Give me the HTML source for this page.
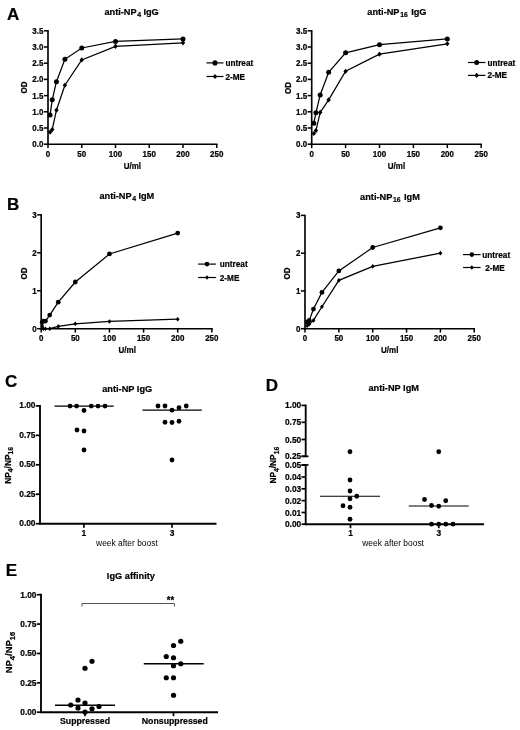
<!DOCTYPE html>
<html><head><meta charset="utf-8"><title>Figure</title>
<style>
html,body{margin:0;padding:0;background:#fff;}
body{width:520px;height:730px;overflow:hidden;}
svg{display:block;font-family:"Liberation Sans",sans-serif;fill:#000;}
text[font-weight="bold"]{stroke:#000;stroke-width:0.22px;}
</style></head><body>
<svg width="520" height="730" viewBox="0 0 520 730">
<defs><filter id="bl" x="0" y="0" width="520" height="730" filterUnits="userSpaceOnUse"><feGaussianBlur stdDeviation="0.45"/></filter></defs>
<rect x="0" y="0" width="520" height="730" fill="#fff"/>
<g filter="url(#bl)">
<line x1="48" y1="30.05" x2="48" y2="145.0" stroke="#000" stroke-width="1.65"/>
<line x1="47.2" y1="144.2" x2="217.55" y2="144.2" stroke="#000" stroke-width="1.65"/>
<line x1="43.9" y1="144.2" x2="48" y2="144.2" stroke="#000" stroke-width="1.5"/>
<text transform="translate(43.4,147.1) scale(0.94,1)" font-size="8.5" text-anchor="end" font-weight="bold" >0.0</text>
<line x1="43.9" y1="128.0" x2="48" y2="128.0" stroke="#000" stroke-width="1.5"/>
<text transform="translate(43.4,130.9) scale(0.94,1)" font-size="8.5" text-anchor="end" font-weight="bold" >0.5</text>
<line x1="43.9" y1="111.8" x2="48" y2="111.8" stroke="#000" stroke-width="1.5"/>
<text transform="translate(43.4,114.7) scale(0.94,1)" font-size="8.5" text-anchor="end" font-weight="bold" >1.0</text>
<line x1="43.9" y1="95.6" x2="48" y2="95.6" stroke="#000" stroke-width="1.5"/>
<text transform="translate(43.4,98.5) scale(0.94,1)" font-size="8.5" text-anchor="end" font-weight="bold" >1.5</text>
<line x1="43.9" y1="79.4" x2="48" y2="79.4" stroke="#000" stroke-width="1.5"/>
<text transform="translate(43.4,82.30000000000001) scale(0.94,1)" font-size="8.5" text-anchor="end" font-weight="bold" >2.0</text>
<line x1="43.9" y1="63.2" x2="48" y2="63.2" stroke="#000" stroke-width="1.5"/>
<text transform="translate(43.4,66.10000000000001) scale(0.94,1)" font-size="8.5" text-anchor="end" font-weight="bold" >2.5</text>
<line x1="43.9" y1="47.0" x2="48" y2="47.0" stroke="#000" stroke-width="1.5"/>
<text transform="translate(43.4,49.9) scale(0.94,1)" font-size="8.5" text-anchor="end" font-weight="bold" >3.0</text>
<line x1="43.9" y1="30.8" x2="48" y2="30.8" stroke="#000" stroke-width="1.5"/>
<text transform="translate(43.4,33.7) scale(0.94,1)" font-size="8.5" text-anchor="end" font-weight="bold" >3.5</text>
<line x1="48.0" y1="144.2" x2="48.0" y2="148.1" stroke="#000" stroke-width="1.5"/>
<text transform="translate(48.0,156.5) scale(0.94,1)" font-size="8.5" text-anchor="middle" font-weight="bold" >0</text>
<line x1="81.75" y1="144.2" x2="81.75" y2="148.1" stroke="#000" stroke-width="1.5"/>
<text transform="translate(81.75,156.5) scale(0.94,1)" font-size="8.5" text-anchor="middle" font-weight="bold" >50</text>
<line x1="115.5" y1="144.2" x2="115.5" y2="148.1" stroke="#000" stroke-width="1.5"/>
<text transform="translate(115.5,156.5) scale(0.94,1)" font-size="8.5" text-anchor="middle" font-weight="bold" >100</text>
<line x1="149.25" y1="144.2" x2="149.25" y2="148.1" stroke="#000" stroke-width="1.5"/>
<text transform="translate(149.25,156.5) scale(0.94,1)" font-size="8.5" text-anchor="middle" font-weight="bold" >150</text>
<line x1="183.0" y1="144.2" x2="183.0" y2="148.1" stroke="#000" stroke-width="1.5"/>
<text transform="translate(183.0,156.5) scale(0.94,1)" font-size="8.5" text-anchor="middle" font-weight="bold" >200</text>
<line x1="216.75" y1="144.2" x2="216.75" y2="148.1" stroke="#000" stroke-width="1.5"/>
<text transform="translate(216.75,156.5) scale(0.94,1)" font-size="8.5" text-anchor="middle" font-weight="bold" >250</text>
<path d="M50.11,115.04 L52.22,99.81 L56.44,81.67 L64.88,59.31 L81.75,47.97 L115.5,41.49 L183.0,38.9" fill="none" stroke="#000" stroke-width="1.25"/>
<circle cx="50.11" cy="115.04" r="2.5"/>
<circle cx="52.22" cy="99.81" r="2.5"/>
<circle cx="56.44" cy="81.67" r="2.5"/>
<circle cx="64.88" cy="59.31" r="2.5"/>
<circle cx="81.75" cy="47.97" r="2.5"/>
<circle cx="115.5" cy="41.49" r="2.5"/>
<circle cx="183.0" cy="38.9" r="2.5"/>
<path d="M50.11,132.21 L52.22,129.62 L56.44,110.18 L64.88,85.23 L81.75,59.96 L115.5,46.35 L183.0,42.79" fill="none" stroke="#000" stroke-width="1.25"/>
<path d="M47.9,132.21 L50.11,129.61 L52.32,132.21 L50.11,134.81Z"/>
<path d="M50.01,129.62 L52.22,127.02000000000001 L54.43,129.62 L52.22,132.22Z"/>
<path d="M54.23,110.18 L56.44,107.58000000000001 L58.65,110.18 L56.44,112.78Z"/>
<path d="M62.669999999999995,85.23 L64.88,82.63000000000001 L67.08999999999999,85.23 L64.88,87.83Z"/>
<path d="M79.54,59.96 L81.75,57.36 L83.96,59.96 L81.75,62.56Z"/>
<path d="M113.29,46.35 L115.5,43.75 L117.71,46.35 L115.5,48.95Z"/>
<path d="M180.79,42.79 L183.0,40.19 L185.21,42.79 L183.0,45.39Z"/>
<text transform="translate(104.4,15.1) scale(0.94,1)" font-size="9.8" text-anchor="start" font-weight="bold">anti-NP<tspan font-size="7.3" dy="2.2" dx="0.8">4</tspan><tspan dy="-2.2" dx="-0.3"> </tspan>IgG</text>
<line x1="206.5" y1="62.9" x2="223.5" y2="62.9" stroke="#000" stroke-width="1.2"/>
<circle cx="215.0" cy="62.9" r="2.55"/>
<text transform="translate(225.4,65.9) scale(0.94,1)" font-size="8.75" text-anchor="start" font-weight="bold" >untreat</text>
<line x1="206.5" y1="76.5" x2="223.5" y2="76.5" stroke="#000" stroke-width="1.2"/>
<path d="M212.79,76.5 L215.0,73.9 L217.21,76.5 L215.0,79.1Z"/>
<text transform="translate(225.4,79.5) scale(0.94,1)" font-size="8.75" text-anchor="start" font-weight="bold" >2-ME</text>
<text transform="translate(26.9,87.6) rotate(-90) scale(0.94,1)" font-size="8.5" text-anchor="middle" font-weight="bold">OD</text>
<text transform="translate(132.3,168.7) scale(0.94,1)" font-size="8.5" text-anchor="middle" font-weight="bold" >U/ml</text>
<text transform="translate(6.9,20.2) scale(1,1)" font-size="17" text-anchor="start" font-weight="bold" stroke="#000" stroke-width="0.35">A</text>
<line x1="311.7" y1="30.05" x2="311.7" y2="145.0" stroke="#000" stroke-width="1.65"/>
<line x1="310.9" y1="144.2" x2="481.95" y2="144.2" stroke="#000" stroke-width="1.65"/>
<line x1="307.59999999999997" y1="144.2" x2="311.7" y2="144.2" stroke="#000" stroke-width="1.5"/>
<text transform="translate(307.09999999999997,147.1) scale(0.94,1)" font-size="8.5" text-anchor="end" font-weight="bold" >0.0</text>
<line x1="307.59999999999997" y1="128.0" x2="311.7" y2="128.0" stroke="#000" stroke-width="1.5"/>
<text transform="translate(307.09999999999997,130.9) scale(0.94,1)" font-size="8.5" text-anchor="end" font-weight="bold" >0.5</text>
<line x1="307.59999999999997" y1="111.8" x2="311.7" y2="111.8" stroke="#000" stroke-width="1.5"/>
<text transform="translate(307.09999999999997,114.7) scale(0.94,1)" font-size="8.5" text-anchor="end" font-weight="bold" >1.0</text>
<line x1="307.59999999999997" y1="95.6" x2="311.7" y2="95.6" stroke="#000" stroke-width="1.5"/>
<text transform="translate(307.09999999999997,98.5) scale(0.94,1)" font-size="8.5" text-anchor="end" font-weight="bold" >1.5</text>
<line x1="307.59999999999997" y1="79.4" x2="311.7" y2="79.4" stroke="#000" stroke-width="1.5"/>
<text transform="translate(307.09999999999997,82.30000000000001) scale(0.94,1)" font-size="8.5" text-anchor="end" font-weight="bold" >2.0</text>
<line x1="307.59999999999997" y1="63.2" x2="311.7" y2="63.2" stroke="#000" stroke-width="1.5"/>
<text transform="translate(307.09999999999997,66.10000000000001) scale(0.94,1)" font-size="8.5" text-anchor="end" font-weight="bold" >2.5</text>
<line x1="307.59999999999997" y1="47.0" x2="311.7" y2="47.0" stroke="#000" stroke-width="1.5"/>
<text transform="translate(307.09999999999997,49.9) scale(0.94,1)" font-size="8.5" text-anchor="end" font-weight="bold" >3.0</text>
<line x1="307.59999999999997" y1="30.8" x2="311.7" y2="30.8" stroke="#000" stroke-width="1.5"/>
<text transform="translate(307.09999999999997,33.7) scale(0.94,1)" font-size="8.5" text-anchor="end" font-weight="bold" >3.5</text>
<line x1="311.7" y1="144.2" x2="311.7" y2="148.1" stroke="#000" stroke-width="1.5"/>
<text transform="translate(311.7,156.5) scale(0.94,1)" font-size="8.5" text-anchor="middle" font-weight="bold" >0</text>
<line x1="345.6" y1="144.2" x2="345.6" y2="148.1" stroke="#000" stroke-width="1.5"/>
<text transform="translate(345.6,156.5) scale(0.94,1)" font-size="8.5" text-anchor="middle" font-weight="bold" >50</text>
<line x1="379.5" y1="144.2" x2="379.5" y2="148.1" stroke="#000" stroke-width="1.5"/>
<text transform="translate(379.5,156.5) scale(0.94,1)" font-size="8.5" text-anchor="middle" font-weight="bold" >100</text>
<line x1="413.4" y1="144.2" x2="413.4" y2="148.1" stroke="#000" stroke-width="1.5"/>
<text transform="translate(413.4,156.5) scale(0.94,1)" font-size="8.5" text-anchor="middle" font-weight="bold" >150</text>
<line x1="447.3" y1="144.2" x2="447.3" y2="148.1" stroke="#000" stroke-width="1.5"/>
<text transform="translate(447.3,156.5) scale(0.94,1)" font-size="8.5" text-anchor="middle" font-weight="bold" >200</text>
<line x1="481.2" y1="144.2" x2="481.2" y2="148.1" stroke="#000" stroke-width="1.5"/>
<text transform="translate(481.2,156.5) scale(0.94,1)" font-size="8.5" text-anchor="middle" font-weight="bold" >250</text>
<path d="M313.82,123.14 L315.94,112.77 L320.18,94.95 L328.65,72.27 L345.6,52.83 L379.5,44.73 L447.3,38.9" fill="none" stroke="#000" stroke-width="1.25"/>
<circle cx="313.82" cy="123.14" r="2.5"/>
<circle cx="315.94" cy="112.77" r="2.5"/>
<circle cx="320.18" cy="94.95" r="2.5"/>
<circle cx="328.65" cy="72.27" r="2.5"/>
<circle cx="345.6" cy="52.83" r="2.5"/>
<circle cx="379.5" cy="44.73" r="2.5"/>
<circle cx="447.3" cy="38.9" r="2.5"/>
<path d="M313.82,133.51 L315.94,130.59 L320.18,112.45 L328.65,99.81 L345.6,71.3 L379.5,54.13 L447.3,43.76" fill="none" stroke="#000" stroke-width="1.25"/>
<path d="M311.61,133.51 L313.82,130.91 L316.03,133.51 L313.82,136.10999999999999Z"/>
<path d="M313.73,130.59 L315.94,127.99000000000001 L318.15,130.59 L315.94,133.19Z"/>
<path d="M317.97,112.45 L320.18,109.85000000000001 L322.39,112.45 L320.18,115.05Z"/>
<path d="M326.44,99.81 L328.65,97.21000000000001 L330.85999999999996,99.81 L328.65,102.41Z"/>
<path d="M343.39000000000004,71.3 L345.6,68.7 L347.81,71.3 L345.6,73.89999999999999Z"/>
<path d="M377.29,54.13 L379.5,51.53 L381.71,54.13 L379.5,56.730000000000004Z"/>
<path d="M445.09000000000003,43.76 L447.3,41.16 L449.51,43.76 L447.3,46.36Z"/>
<text transform="translate(367.3,15.1) scale(0.94,1)" font-size="9.8" text-anchor="start" font-weight="bold">anti-NP<tspan font-size="7.3" dy="2.2" dx="0.8">16</tspan><tspan dy="-2.2" dx="0.8"> </tspan>IgG</text>
<line x1="467.9" y1="62.5" x2="485.4" y2="62.5" stroke="#000" stroke-width="1.2"/>
<circle cx="476.65" cy="62.5" r="2.5"/>
<text transform="translate(487.4,65.5) scale(0.94,1)" font-size="8.75" text-anchor="start" font-weight="bold" >untreat</text>
<line x1="467.9" y1="75.4" x2="485.4" y2="75.4" stroke="#000" stroke-width="1.2"/>
<path d="M474.48249999999996,75.4 L476.65,72.85000000000001 L478.8175,75.4 L476.65,77.95Z"/>
<text transform="translate(487.4,78.4) scale(0.94,1)" font-size="8.75" text-anchor="start" font-weight="bold" >2-ME</text>
<text transform="translate(290.8,88) rotate(-90) scale(0.94,1)" font-size="8.5" text-anchor="middle" font-weight="bold">OD</text>
<text transform="translate(396.5,168.7) scale(0.94,1)" font-size="8.5" text-anchor="middle" font-weight="bold" >U/ml</text>
<line x1="41.2" y1="214.1" x2="41.2" y2="329.5" stroke="#000" stroke-width="1.65"/>
<line x1="40.400000000000006" y1="328.7" x2="212.75" y2="328.7" stroke="#000" stroke-width="1.65"/>
<line x1="37.1" y1="328.7" x2="41.2" y2="328.7" stroke="#000" stroke-width="1.5"/>
<text transform="translate(36.6,331.59999999999997) scale(0.94,1)" font-size="8.5" text-anchor="end" font-weight="bold" >0</text>
<line x1="37.1" y1="290.75" x2="41.2" y2="290.75" stroke="#000" stroke-width="1.5"/>
<text transform="translate(36.6,293.65) scale(0.94,1)" font-size="8.5" text-anchor="end" font-weight="bold" >1</text>
<line x1="37.1" y1="252.8" x2="41.2" y2="252.8" stroke="#000" stroke-width="1.5"/>
<text transform="translate(36.6,255.70000000000002) scale(0.94,1)" font-size="8.5" text-anchor="end" font-weight="bold" >2</text>
<line x1="37.1" y1="214.85" x2="41.2" y2="214.85" stroke="#000" stroke-width="1.5"/>
<text transform="translate(36.6,217.75) scale(0.94,1)" font-size="8.5" text-anchor="end" font-weight="bold" >3</text>
<line x1="41.2" y1="328.7" x2="41.2" y2="332.59999999999997" stroke="#000" stroke-width="1.5"/>
<text transform="translate(41.2,341.0) scale(0.94,1)" font-size="8.5" text-anchor="middle" font-weight="bold" >0</text>
<line x1="75.33" y1="328.7" x2="75.33" y2="332.59999999999997" stroke="#000" stroke-width="1.5"/>
<text transform="translate(75.33,341.0) scale(0.94,1)" font-size="8.5" text-anchor="middle" font-weight="bold" >50</text>
<line x1="109.45" y1="328.7" x2="109.45" y2="332.59999999999997" stroke="#000" stroke-width="1.5"/>
<text transform="translate(109.45,341.0) scale(0.94,1)" font-size="8.5" text-anchor="middle" font-weight="bold" >100</text>
<line x1="143.57" y1="328.7" x2="143.57" y2="332.59999999999997" stroke="#000" stroke-width="1.5"/>
<text transform="translate(143.57,341.0) scale(0.94,1)" font-size="8.5" text-anchor="middle" font-weight="bold" >150</text>
<line x1="177.7" y1="328.7" x2="177.7" y2="332.59999999999997" stroke="#000" stroke-width="1.5"/>
<text transform="translate(177.7,341.0) scale(0.94,1)" font-size="8.5" text-anchor="middle" font-weight="bold" >200</text>
<line x1="211.82" y1="328.7" x2="211.82" y2="332.59999999999997" stroke="#000" stroke-width="1.5"/>
<text transform="translate(211.82,341.0) scale(0.94,1)" font-size="8.5" text-anchor="middle" font-weight="bold" >250</text>
<path d="M42.26,322.25 L43.33,321.11 L45.47,321.11 L49.73,315.04 L58.26,302.13 L75.33,282.02 L109.45,253.94 L177.7,233.07" fill="none" stroke="#000" stroke-width="1.25"/>
<circle cx="42.26" cy="322.25" r="2.4"/>
<circle cx="43.33" cy="321.11" r="2.4"/>
<circle cx="45.47" cy="321.11" r="2.4"/>
<circle cx="49.73" cy="315.04" r="2.4"/>
<circle cx="58.26" cy="302.13" r="2.4"/>
<circle cx="75.33" cy="282.02" r="2.4"/>
<circle cx="109.45" cy="253.94" r="2.4"/>
<circle cx="177.7" cy="233.07" r="2.4"/>
<path d="M42.26,326.04 L43.33,328.7 L45.47,328.7 L49.73,328.7 L58.26,326.42 L75.33,323.77 L109.45,321.49 L177.7,319.21" fill="none" stroke="#000" stroke-width="1.25"/>
<path d="M40.305,326.04 L42.26,323.74 L44.214999999999996,326.04 L42.26,328.34000000000003Z"/>
<path d="M41.375,328.7 L43.33,326.4 L45.285,328.7 L43.33,331.0Z"/>
<path d="M43.515,328.7 L45.47,326.4 L47.425,328.7 L45.47,331.0Z"/>
<path d="M47.775,328.7 L49.73,326.4 L51.684999999999995,328.7 L49.73,331.0Z"/>
<path d="M56.305,326.42 L58.26,324.12 L60.214999999999996,326.42 L58.26,328.72Z"/>
<path d="M73.375,323.77 L75.33,321.46999999999997 L77.285,323.77 L75.33,326.07Z"/>
<path d="M107.495,321.49 L109.45,319.19 L111.405,321.49 L109.45,323.79Z"/>
<path d="M175.74499999999998,319.21 L177.7,316.90999999999997 L179.655,319.21 L177.7,321.51Z"/>
<text transform="translate(99.4,198.7) scale(0.94,1)" font-size="9.8" text-anchor="start" font-weight="bold">anti-NP<tspan font-size="7.3" dy="2.2" dx="0.8">4</tspan><tspan dy="-2.2" dx="-0.3"> </tspan>IgM</text>
<line x1="198.1" y1="264.1" x2="215.9" y2="264.1" stroke="#000" stroke-width="1.2"/>
<circle cx="207.0" cy="264.1" r="2.35"/>
<text transform="translate(219.8,267.1) scale(0.94,1)" font-size="8.75" text-anchor="start" font-weight="bold" >untreat</text>
<line x1="198.1" y1="277.5" x2="215.9" y2="277.5" stroke="#000" stroke-width="1.2"/>
<path d="M205.045,277.5 L207.0,275.2 L208.955,277.5 L207.0,279.8Z"/>
<text transform="translate(219.8,280.5) scale(0.94,1)" font-size="8.75" text-anchor="start" font-weight="bold" >2-ME</text>
<text transform="translate(26.6,273.5) rotate(-90) scale(0.94,1)" font-size="8.5" text-anchor="middle" font-weight="bold">OD</text>
<text transform="translate(127.2,353.2) scale(0.94,1)" font-size="8.5" text-anchor="middle" font-weight="bold" >U/ml</text>
<text transform="translate(6.9,210) scale(1,1)" font-size="17" text-anchor="start" font-weight="bold" stroke="#000" stroke-width="0.35">B</text>
<line x1="305" y1="214.64" x2="305" y2="329.5" stroke="#000" stroke-width="1.65"/>
<line x1="304.2" y1="328.7" x2="475.05" y2="328.7" stroke="#000" stroke-width="1.65"/>
<line x1="300.9" y1="328.7" x2="305" y2="328.7" stroke="#000" stroke-width="1.5"/>
<text transform="translate(300.4,331.59999999999997) scale(0.94,1)" font-size="8.5" text-anchor="end" font-weight="bold" >0</text>
<line x1="300.9" y1="290.93" x2="305" y2="290.93" stroke="#000" stroke-width="1.5"/>
<text transform="translate(300.4,293.83) scale(0.94,1)" font-size="8.5" text-anchor="end" font-weight="bold" >1</text>
<line x1="300.9" y1="253.16" x2="305" y2="253.16" stroke="#000" stroke-width="1.5"/>
<text transform="translate(300.4,256.06) scale(0.94,1)" font-size="8.5" text-anchor="end" font-weight="bold" >2</text>
<line x1="300.9" y1="215.39" x2="305" y2="215.39" stroke="#000" stroke-width="1.5"/>
<text transform="translate(300.4,218.29) scale(0.94,1)" font-size="8.5" text-anchor="end" font-weight="bold" >3</text>
<line x1="305.0" y1="328.7" x2="305.0" y2="332.59999999999997" stroke="#000" stroke-width="1.5"/>
<text transform="translate(305.0,341.0) scale(0.94,1)" font-size="8.5" text-anchor="middle" font-weight="bold" >0</text>
<line x1="338.85" y1="328.7" x2="338.85" y2="332.59999999999997" stroke="#000" stroke-width="1.5"/>
<text transform="translate(338.85,341.0) scale(0.94,1)" font-size="8.5" text-anchor="middle" font-weight="bold" >50</text>
<line x1="372.7" y1="328.7" x2="372.7" y2="332.59999999999997" stroke="#000" stroke-width="1.5"/>
<text transform="translate(372.7,341.0) scale(0.94,1)" font-size="8.5" text-anchor="middle" font-weight="bold" >100</text>
<line x1="406.55" y1="328.7" x2="406.55" y2="332.59999999999997" stroke="#000" stroke-width="1.5"/>
<text transform="translate(406.55,341.0) scale(0.94,1)" font-size="8.5" text-anchor="middle" font-weight="bold" >150</text>
<line x1="440.4" y1="328.7" x2="440.4" y2="332.59999999999997" stroke="#000" stroke-width="1.5"/>
<text transform="translate(440.4,341.0) scale(0.94,1)" font-size="8.5" text-anchor="middle" font-weight="bold" >200</text>
<line x1="474.25" y1="328.7" x2="474.25" y2="332.59999999999997" stroke="#000" stroke-width="1.5"/>
<text transform="translate(474.25,341.0) scale(0.94,1)" font-size="8.5" text-anchor="middle" font-weight="bold" >250</text>
<path d="M307.12,321.9 L309.23,320.39 L313.46,309.06 L321.93,292.44 L338.85,270.91 L372.7,247.49 L440.4,227.85" fill="none" stroke="#000" stroke-width="1.25"/>
<circle cx="307.12" cy="321.9" r="2.4"/>
<circle cx="309.23" cy="320.39" r="2.4"/>
<circle cx="313.46" cy="309.06" r="2.4"/>
<circle cx="321.93" cy="292.44" r="2.4"/>
<circle cx="338.85" cy="270.91" r="2.4"/>
<circle cx="372.7" cy="247.49" r="2.4"/>
<circle cx="440.4" cy="227.85" r="2.4"/>
<path d="M307.12,325.68 L309.23,324.17 L313.46,320.39 L321.93,306.79 L338.85,280.35 L372.7,266.38 L440.4,253.16" fill="none" stroke="#000" stroke-width="1.25"/>
<path d="M305.165,325.68 L307.12,323.38 L309.075,325.68 L307.12,327.98Z"/>
<path d="M307.27500000000003,324.17 L309.23,321.87 L311.185,324.17 L309.23,326.47Z"/>
<path d="M311.505,320.39 L313.46,318.09 L315.41499999999996,320.39 L313.46,322.69Z"/>
<path d="M319.975,306.79 L321.93,304.49 L323.885,306.79 L321.93,309.09000000000003Z"/>
<path d="M336.89500000000004,280.35 L338.85,278.05 L340.805,280.35 L338.85,282.65000000000003Z"/>
<path d="M370.745,266.38 L372.7,264.08 L374.655,266.38 L372.7,268.68Z"/>
<path d="M438.445,253.16 L440.4,250.85999999999999 L442.35499999999996,253.16 L440.4,255.46Z"/>
<text transform="translate(360.1,199.6) scale(0.94,1)" font-size="9.8" text-anchor="start" font-weight="bold">anti-NP<tspan font-size="7.3" dy="2.2" dx="0.8">16</tspan><tspan dy="-2.2" dx="0.8"> </tspan>IgM</text>
<line x1="463.1" y1="254.6" x2="480.6" y2="254.6" stroke="#000" stroke-width="1.2"/>
<circle cx="471.85" cy="254.6" r="2.35"/>
<text transform="translate(482.3,257.6) scale(0.94,1)" font-size="8.75" text-anchor="start" font-weight="bold" >untreat</text>
<line x1="463.1" y1="267.5" x2="480.6" y2="267.5" stroke="#000" stroke-width="1.2"/>
<path d="M469.89500000000004,267.5 L471.85,265.2 L473.805,267.5 L471.85,269.8Z"/>
<text transform="translate(485.2,270.5) scale(0.94,1)" font-size="8.75" text-anchor="start" font-weight="bold" >2-ME</text>
<text transform="translate(289.7,273.5) rotate(-90) scale(0.94,1)" font-size="8.5" text-anchor="middle" font-weight="bold">OD</text>
<text transform="translate(389.7,353.2) scale(0.94,1)" font-size="8.5" text-anchor="middle" font-weight="bold" >U/ml</text>
<line x1="40" y1="405.04999999999995" x2="40" y2="524.6" stroke="#000" stroke-width="1.85"/>
<line x1="39.1" y1="523.7" x2="216.5" y2="523.7" stroke="#000" stroke-width="1.85"/>
<line x1="35.8" y1="523.7" x2="40" y2="523.7" stroke="#000" stroke-width="1.7"/>
<text transform="translate(35.5,526.2) scale(0.94,1)" font-size="8.9" text-anchor="end" font-weight="bold" >0.00</text>
<line x1="35.8" y1="494.25000000000006" x2="40" y2="494.25000000000006" stroke="#000" stroke-width="1.7"/>
<text transform="translate(35.5,496.75000000000006) scale(0.94,1)" font-size="8.9" text-anchor="end" font-weight="bold" >0.25</text>
<line x1="35.8" y1="464.80000000000007" x2="40" y2="464.80000000000007" stroke="#000" stroke-width="1.7"/>
<text transform="translate(35.5,467.30000000000007) scale(0.94,1)" font-size="8.9" text-anchor="end" font-weight="bold" >0.50</text>
<line x1="35.8" y1="435.35" x2="40" y2="435.35" stroke="#000" stroke-width="1.7"/>
<text transform="translate(35.5,437.85) scale(0.94,1)" font-size="8.9" text-anchor="end" font-weight="bold" >0.75</text>
<line x1="35.8" y1="405.90000000000003" x2="40" y2="405.90000000000003" stroke="#000" stroke-width="1.7"/>
<text transform="translate(35.5,408.40000000000003) scale(0.94,1)" font-size="8.9" text-anchor="end" font-weight="bold" >1.00</text>
<line x1="83.9" y1="523.7" x2="83.9" y2="527.7" stroke="#000" stroke-width="1.7"/>
<text transform="translate(83.9,535.6) scale(0.94,1)" font-size="8.9" text-anchor="middle" font-weight="bold" >1</text>
<line x1="172" y1="523.7" x2="172" y2="527.7" stroke="#000" stroke-width="1.7"/>
<text transform="translate(172,535.6) scale(0.94,1)" font-size="8.9" text-anchor="middle" font-weight="bold" >3</text>
<text transform="translate(126.9,546.2) scale(0.94,1)" font-size="8.95" text-anchor="middle" font-weight="normal" >week after boost</text>
<text transform="translate(127.2,391.5) scale(0.94,1)" font-size="9.8" text-anchor="middle" font-weight="bold" >anti-NP IgG</text>
<text transform="translate(10.9,465.4) rotate(-90) scale(0.94,1)" font-size="8.9" text-anchor="middle" font-weight="bold">NP<tspan font-size="7.2" dy="2.2">4</tspan><tspan dy="-2.2">/NP</tspan><tspan font-size="7.2" dy="2.2">16</tspan></text>
<circle cx="70" cy="406.1" r="2.4"/>
<circle cx="76.6" cy="406.1" r="2.4"/>
<circle cx="91.25" cy="406.1" r="2.4"/>
<circle cx="98" cy="406.1" r="2.4"/>
<circle cx="105" cy="406.1" r="2.4"/>
<circle cx="84" cy="410.5" r="2.4"/>
<circle cx="77" cy="430" r="2.4"/>
<circle cx="84" cy="431" r="2.4"/>
<circle cx="84" cy="450" r="2.4"/>
<line x1="54.5" y1="406.1" x2="113.75" y2="406.1" stroke="#000" stroke-width="1.2"/>
<circle cx="158" cy="406.0" r="2.4"/>
<circle cx="165" cy="406.0" r="2.4"/>
<circle cx="172" cy="410.2" r="2.4"/>
<circle cx="179" cy="407.7" r="2.4"/>
<circle cx="186.25" cy="406.0" r="2.4"/>
<circle cx="165" cy="422.25" r="2.4"/>
<circle cx="172" cy="422.5" r="2.4"/>
<circle cx="179" cy="421.25" r="2.4"/>
<circle cx="172" cy="460" r="2.4"/>
<line x1="142.5" y1="410.2" x2="201.75" y2="410.2" stroke="#000" stroke-width="1.2"/>
<text transform="translate(4.9,386.8) scale(1,1)" font-size="17" text-anchor="start" font-weight="bold" stroke="#000" stroke-width="0.35">C</text>
<line x1="305.7" y1="404.54999999999995" x2="305.7" y2="457.2" stroke="#000" stroke-width="1.85"/>
<line x1="305.7" y1="464.1" x2="305.7" y2="525.1" stroke="#000" stroke-width="1.85"/>
<line x1="304.8" y1="524.2" x2="484" y2="524.2" stroke="#000" stroke-width="1.85"/>
<line x1="301.5" y1="405.4" x2="305.7" y2="405.4" stroke="#000" stroke-width="1.7"/>
<text transform="translate(301.2,408.4) scale(0.94,1)" font-size="8.9" text-anchor="end" font-weight="bold" >1.00</text>
<line x1="301.5" y1="422.3" x2="305.7" y2="422.3" stroke="#000" stroke-width="1.7"/>
<text transform="translate(301.2,425.3) scale(0.94,1)" font-size="8.9" text-anchor="end" font-weight="bold" >0.75</text>
<line x1="301.5" y1="439.5" x2="305.7" y2="439.5" stroke="#000" stroke-width="1.7"/>
<text transform="translate(301.2,442.5) scale(0.94,1)" font-size="8.9" text-anchor="end" font-weight="bold" >0.50</text>
<line x1="301.5" y1="456.3" x2="305.7" y2="456.3" stroke="#000" stroke-width="1.7"/>
<text transform="translate(301.2,459.3) scale(0.94,1)" font-size="8.9" text-anchor="end" font-weight="bold" >0.25</text>
<line x1="301.5" y1="465" x2="305.7" y2="465" stroke="#000" stroke-width="1.7"/>
<text transform="translate(301.2,468.0) scale(0.94,1)" font-size="8.9" text-anchor="end" font-weight="bold" >0.05</text>
<line x1="301.5" y1="477" x2="305.7" y2="477" stroke="#000" stroke-width="1.7"/>
<text transform="translate(301.2,480.0) scale(0.94,1)" font-size="8.9" text-anchor="end" font-weight="bold" >0.04</text>
<line x1="301.5" y1="488.8" x2="305.7" y2="488.8" stroke="#000" stroke-width="1.7"/>
<text transform="translate(301.2,491.8) scale(0.94,1)" font-size="8.9" text-anchor="end" font-weight="bold" >0.03</text>
<line x1="301.5" y1="500.6" x2="305.7" y2="500.6" stroke="#000" stroke-width="1.7"/>
<text transform="translate(301.2,503.6) scale(0.94,1)" font-size="8.9" text-anchor="end" font-weight="bold" >0.02</text>
<line x1="301.5" y1="512.5" x2="305.7" y2="512.5" stroke="#000" stroke-width="1.7"/>
<text transform="translate(301.2,515.5) scale(0.94,1)" font-size="8.9" text-anchor="end" font-weight="bold" >0.01</text>
<line x1="301.5" y1="524.2" x2="305.7" y2="524.2" stroke="#000" stroke-width="1.7"/>
<text transform="translate(301.2,527.2) scale(0.94,1)" font-size="8.9" text-anchor="end" font-weight="bold" >0.00</text>
<line x1="350.5" y1="524.2" x2="350.5" y2="528.2" stroke="#000" stroke-width="1.7"/>
<text transform="translate(350.5,536.1) scale(0.94,1)" font-size="8.9" text-anchor="middle" font-weight="bold" >1</text>
<line x1="438.75" y1="524.2" x2="438.75" y2="528.2" stroke="#000" stroke-width="1.7"/>
<text transform="translate(438.75,536.1) scale(0.94,1)" font-size="8.9" text-anchor="middle" font-weight="bold" >3</text>
<text transform="translate(393.1,545.9) scale(0.94,1)" font-size="8.95" text-anchor="middle" font-weight="normal" >week after boost</text>
<text transform="translate(393.7,391.0) scale(0.94,1)" font-size="9.8" text-anchor="middle" font-weight="bold" >anti-NP IgM</text>
<text transform="translate(276.3,465.2) rotate(-90) scale(0.94,1)" font-size="8.9" text-anchor="middle" font-weight="bold">NP<tspan font-size="7.2" dy="2.2">4</tspan><tspan dy="-2.2">/NP</tspan><tspan font-size="7.2" dy="2.2">16</tspan></text>
<line x1="301.5" y1="456.3" x2="308.5" y2="456.3" stroke="#000" stroke-width="1.7"/>
<line x1="301.5" y1="465" x2="308.5" y2="465" stroke="#000" stroke-width="1.7"/>
<circle cx="350" cy="451.75" r="2.4"/>
<circle cx="350" cy="480" r="2.4"/>
<circle cx="350" cy="491" r="2.4"/>
<circle cx="356.75" cy="496.25" r="2.4"/>
<circle cx="350" cy="498.75" r="2.4"/>
<circle cx="343" cy="505.75" r="2.4"/>
<circle cx="350" cy="507.25" r="2.4"/>
<circle cx="350" cy="519.25" r="2.4"/>
<line x1="320" y1="496.25" x2="380" y2="496.25" stroke="#000" stroke-width="1.2"/>
<circle cx="438.75" cy="451.75" r="2.4"/>
<circle cx="424.5" cy="499.5" r="2.4"/>
<circle cx="445.75" cy="500.75" r="2.4"/>
<circle cx="431.5" cy="505.5" r="2.4"/>
<circle cx="438.75" cy="506.25" r="2.4"/>
<circle cx="431.5" cy="524.2" r="2.4"/>
<circle cx="438.75" cy="524.2" r="2.4"/>
<circle cx="445.75" cy="524.2" r="2.4"/>
<circle cx="453" cy="524.2" r="2.4"/>
<line x1="408.75" y1="506" x2="468.75" y2="506" stroke="#000" stroke-width="1.2"/>
<text transform="translate(265.7,391) scale(1,1)" font-size="17" text-anchor="start" font-weight="bold" stroke="#000" stroke-width="0.35">D</text>
<line x1="41" y1="593.85" x2="41" y2="713.1" stroke="#000" stroke-width="1.85"/>
<line x1="40.1" y1="712.2" x2="218" y2="712.2" stroke="#000" stroke-width="1.85"/>
<line x1="36.8" y1="712.2" x2="41" y2="712.2" stroke="#000" stroke-width="1.7"/>
<text transform="translate(36.5,715.2) scale(0.94,1)" font-size="8.9" text-anchor="end" font-weight="bold" >0.00</text>
<line x1="36.8" y1="682.825" x2="41" y2="682.825" stroke="#000" stroke-width="1.7"/>
<text transform="translate(36.5,685.825) scale(0.94,1)" font-size="8.9" text-anchor="end" font-weight="bold" >0.25</text>
<line x1="36.8" y1="653.45" x2="41" y2="653.45" stroke="#000" stroke-width="1.7"/>
<text transform="translate(36.5,656.45) scale(0.94,1)" font-size="8.9" text-anchor="end" font-weight="bold" >0.50</text>
<line x1="36.8" y1="624.075" x2="41" y2="624.075" stroke="#000" stroke-width="1.7"/>
<text transform="translate(36.5,627.075) scale(0.94,1)" font-size="8.9" text-anchor="end" font-weight="bold" >0.75</text>
<line x1="36.8" y1="594.7" x2="41" y2="594.7" stroke="#000" stroke-width="1.7"/>
<text transform="translate(36.5,597.7) scale(0.94,1)" font-size="8.9" text-anchor="end" font-weight="bold" >1.00</text>
<line x1="85" y1="712.2" x2="85" y2="716.2" stroke="#000" stroke-width="1.7"/>
<text transform="translate(85,724.3000000000001) scale(0.94,1)" font-size="9.3" text-anchor="middle" font-weight="bold" >Suppressed</text>
<line x1="173.5" y1="712.2" x2="173.5" y2="716.2" stroke="#000" stroke-width="1.7"/>
<text transform="translate(174.8,724.3000000000001) scale(0.94,1)" font-size="9.3" text-anchor="middle" font-weight="bold" >Nonsuppressed</text>
<text transform="translate(130.9,579) scale(0.94,1)" font-size="9.8" text-anchor="middle" font-weight="bold" >IgG affinity</text>
<text transform="translate(12.3,652.5) rotate(-90) scale(1.01,1)" font-size="9.3" text-anchor="middle" font-weight="bold">NP<tspan font-size="7.6" dy="2.2">4</tspan><tspan dy="-2.2">/NP</tspan><tspan font-size="7.6" dy="2.2">16</tspan></text>
<circle cx="85" cy="668.25" r="2.6"/>
<circle cx="92" cy="661.25" r="2.6"/>
<circle cx="78" cy="700" r="2.6"/>
<circle cx="85" cy="703" r="2.6"/>
<circle cx="70.75" cy="705" r="2.6"/>
<circle cx="99" cy="706.5" r="2.6"/>
<circle cx="78" cy="708" r="2.6"/>
<circle cx="92" cy="708.75" r="2.6"/>
<circle cx="85" cy="712" r="2.6"/>
<line x1="55" y1="705.25" x2="115" y2="705.25" stroke="#000" stroke-width="1.5"/>
<circle cx="180.75" cy="641.25" r="2.6"/>
<circle cx="173.5" cy="645.5" r="2.6"/>
<circle cx="166.25" cy="656.5" r="2.6"/>
<circle cx="173.5" cy="657.75" r="2.6"/>
<circle cx="180.75" cy="663.75" r="2.6"/>
<circle cx="173.5" cy="665.75" r="2.6"/>
<circle cx="166.25" cy="677.75" r="2.6"/>
<circle cx="173.5" cy="677.75" r="2.6"/>
<circle cx="173.5" cy="695.25" r="2.6"/>
<line x1="143.75" y1="663.75" x2="203.75" y2="663.75" stroke="#000" stroke-width="1.5"/>
<path d="M82,606.5 V603.5 H174.4 V606.5" fill="none" stroke="#2a2a2a" stroke-width="0.8"/>
<text transform="translate(170.4,603.6) scale(0.94,1)" font-size="10.2" text-anchor="middle" font-weight="bold" >**</text>
<text transform="translate(5.7,575.6) scale(1,1)" font-size="17" text-anchor="start" font-weight="bold" stroke="#000" stroke-width="0.35">E</text>
</g>
</svg>
</body></html>
